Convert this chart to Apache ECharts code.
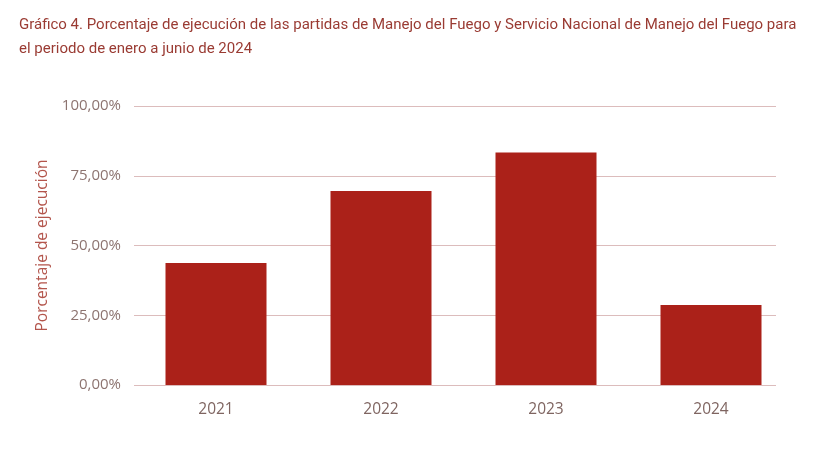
<!DOCTYPE html>
<html><head><meta charset="utf-8">
<script src="https://cdn.jsdelivr.net/npm/echarts@6/dist/echarts.min.js"></script>
<style>html,body{margin:0;padding:0;background:#fff}#c{width:819px;height:460px}</style>
</head><body><div id="c"></div>
<script>
const categories = ['2021', '2022', '2023', '2024'];
const values = [43.7, 69.5, 83.3, 28.7];
const yTicks = [0, 25, 50, 75, 100];
const titleText = 'Gráfico 4. Porcentaje de ejecución de las partidas de Manejo del Fuego y Servicio Nacional de Manejo del Fuego para\nel periodo de enero a junio de 2024';
const yName = 'Porcentaje de ejecución';

const chart = echarts.init(document.getElementById('c'));
const fmt = v => v.toFixed(2).replace('.', ',') + '%';
chart.setOption({
  animation: false,
  title: {
    text: titleText, left: 14, top: 8,
    textStyle: { fontFamily: 'Roboto', fontSize: 15, fontWeight: 'normal', color: '#9a3b33', lineHeight: 24 }
  },
  grid: [
    { left: 134, right: 43, top: 106, bottom: 75 },
    { left: 133.5, right: 25.5, top: 106, bottom: 75 }
  ],
  xAxis: [
    { gridIndex: 0, type: 'category', data: categories, show: false },
    { gridIndex: 1, type: 'category', data: categories,
      axisLine: { show: false }, axisTick: { show: false },
      axisLabel: { color: '#7f6561', fontSize: 15.5, fontFamily: 'Open Sans', margin: 17 } }
  ],
  yAxis: [
    { gridIndex: 0, type: 'value', min: 0, max: 100, interval: 25,
      name: yName, nameLocation: 'middle', nameGap: 76, nameRotate: 90,
      nameTextStyle: { color: '#b3554c', fontSize: 15.5, fontFamily: 'Open Sans' },
      axisLine: { show: false }, axisTick: { show: false },
      axisLabel: { color: '#8d7470', fontSize: 15, fontFamily: 'Open Sans', margin: 13, formatter: fmt },
      splitLine: { lineStyle: { color: '#dcbcbc', width: 1 } } },
    { gridIndex: 1, type: 'value', min: 0, max: 100, interval: 25, show: false,
      splitLine: { show: false } }
  ],
  series: [{
    type: 'bar', xAxisIndex: 1, yAxisIndex: 1, data: values, barWidth: 101,
    itemStyle: { color: '#ab2119' }
  }]
});
</script></body></html>
